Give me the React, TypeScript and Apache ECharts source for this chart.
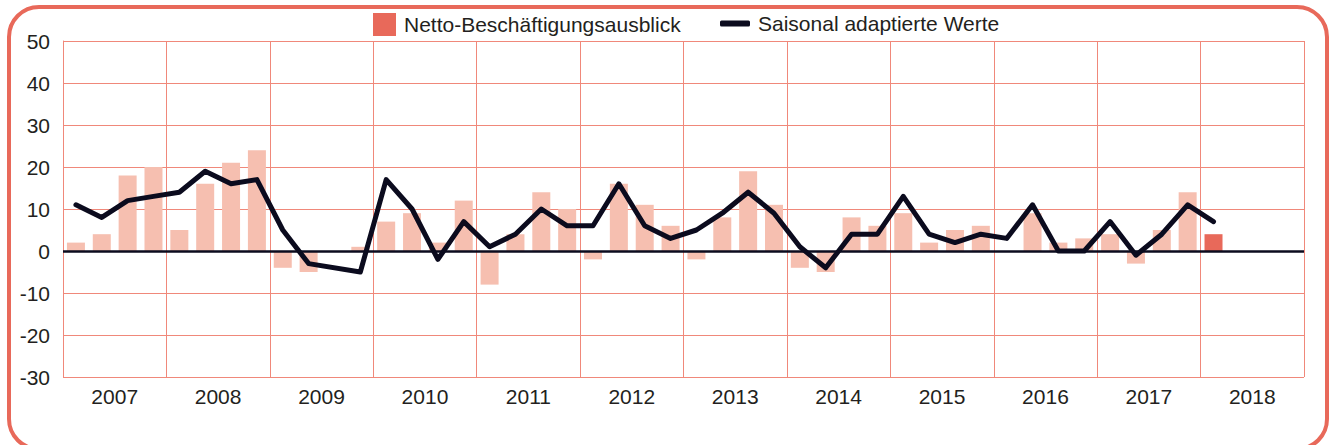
import React, { useEffect, useRef } from "react";
import * as echarts from "echarts";

const years = ["2007", "2008", "2009", "2010", "2011", "2012", "2013", "2014", "2015", "2016", "2017", "2018"];
const quarterLabels = ["Q1", "Q2", "Q3", "Q4"];

// Netto-Beschäftigungsausblick, 2007 Q1 .. 2018 Q1
const outlookValues: (number | null)[] = [
  2, 4, 18, 20,
  5, 16, 21, 24,
  -4, -5, null, 1,
  7, 9, 2, 12,
  -8, 4, 14, 10,
  -2, 16, 11, 6,
  -2, 8, 19, 11,
  -4, -5, 8, 6,
  9, 2, 5, 6,
  null, 9, 2, 3,
  4, -3, 5, 14,
  4,
];

// Saisonal adaptierte Werte, 2007 Q1 .. 2018 Q1
const adjustedValues: (number | null)[] = [
  11, 8, 12, 13,
  14, 19, 16, 17,
  5, -3, null, -5,
  17, 10, -2, 7,
  1, 4, 10, 6,
  6, 16, 6, 3,
  5, 9, 14, 9,
  1, -4, 4, 4,
  13, 4, 2, 4,
  3, 11, 0, 0,
  7, -1, 4, 11,
  7,
];

const yTicks = { min: -30, max: 50, interval: 10 };

const BAR_NAME = "Netto-Beschäftigungsausblick";
const LINE_NAME = "Saisonal adaptierte Werte";

const GRID_COLOR = "#f0887a";
const BAR_COLOR = "#f6bfb0";
const BAR_HIGHLIGHT = "#e8695a";
const LINE_COLOR = "#0b0b1e";
const TEXT_COLOR = "#231f20";
const FONT = "Liberation Sans, Arial, sans-serif";

export default function App() {
  const ref = useRef<HTMLDivElement>(null);

  useEffect(() => {
    if (!ref.current) return;
    const chart = echarts.init(ref.current, undefined, { renderer: "svg" });

    const quarters: string[] = [];
    years.forEach((y) => quarterLabels.forEach((q) => quarters.push(y + " " + q)));

    const lastIdx = outlookValues.length - 1;
    const barData = outlookValues.map((v, i) =>
      i === lastIdx ? { value: v, itemStyle: { color: BAR_HIGHLIGHT } } : v
    );

    chart.setOption({
      animation: false,
      textStyle: { fontFamily: FONT },
      graphic: [
        {
          type: "rect",
          z: -10,
          silent: true,
          shape: { x: 9, y: 7, width: 1318, height: 442, r: 30 },
          style: { fill: "none", stroke: BAR_HIGHLIGHT, lineWidth: 4 },
        },
      ],
      legend: [
        {
          left: 373,
          top: 13,
          padding: 0,
          itemWidth: 23,
          itemHeight: 23,
          selectedMode: false,
          textStyle: { fontSize: 21, color: TEXT_COLOR, fontFamily: FONT, padding: [0, 0, 0, 3] },
          data: [{ name: BAR_NAME, icon: "rect", itemStyle: { color: BAR_HIGHLIGHT } }],
        },
        {
          left: 720,
          top: 13,
          padding: 0,
          itemWidth: 30,
          itemHeight: 6,
          selectedMode: false,
          textStyle: { fontSize: 21, color: TEXT_COLOR, fontFamily: FONT, padding: [0, 0, 0, 3] },
          data: [{ name: LINE_NAME, icon: "roundRect", itemStyle: { color: LINE_COLOR } }],
        },
      ],
      grid: { left: 63, right: 29, top: 41, bottom: 68, containLabel: false },
      xAxis: [
        {
          type: "category",
          data: quarters,
          show: false,
          boundaryGap: true,
        },
        {
          type: "category",
          data: years,
          position: "bottom",
          boundaryGap: true,
          axisLine: { show: false },
          axisTick: { show: false },
          axisLabel: { fontSize: 21, color: TEXT_COLOR, margin: 9, fontFamily: FONT },
          splitLine: { show: true, lineStyle: { color: GRID_COLOR, width: 1 } },
        },
      ],
      yAxis: {
        type: "value",
        min: yTicks.min,
        max: yTicks.max,
        interval: yTicks.interval,
        axisLine: { show: true, lineStyle: { color: GRID_COLOR, width: 1 } },
        axisTick: { show: false },
        axisLabel: { fontSize: 21, color: TEXT_COLOR, margin: 13, fontFamily: FONT },
        splitLine: { show: true, lineStyle: { color: GRID_COLOR, width: 1 } },
      },
      series: [
        {
          name: BAR_NAME,
          type: "bar",
          xAxisIndex: 0,
          data: barData,
          barWidth: 18,
          itemStyle: { color: BAR_COLOR },
          markLine: {
            silent: true,
            symbol: ["none", "none"],
            label: { show: false },
            lineStyle: { color: LINE_COLOR, width: 2.5, type: "solid" },
            data: [{ yAxis: 0 }],
          },
        },
        {
          name: LINE_NAME,
          type: "line",
          xAxisIndex: 0,
          data: adjustedValues,
          connectNulls: true,
          showSymbol: false,
          symbol: "none",
          lineStyle: { color: LINE_COLOR, width: 5, join: "round", cap: "round" },
          itemStyle: { color: LINE_COLOR },
        },
      ],
    });

    return () => chart.dispose();
  }, []);

  return (
    <div
      ref={ref}
      style={{ position: "fixed", left: 0, top: 0, width: 1333, height: 445, background: "#fff" }}
    />
  );
}
